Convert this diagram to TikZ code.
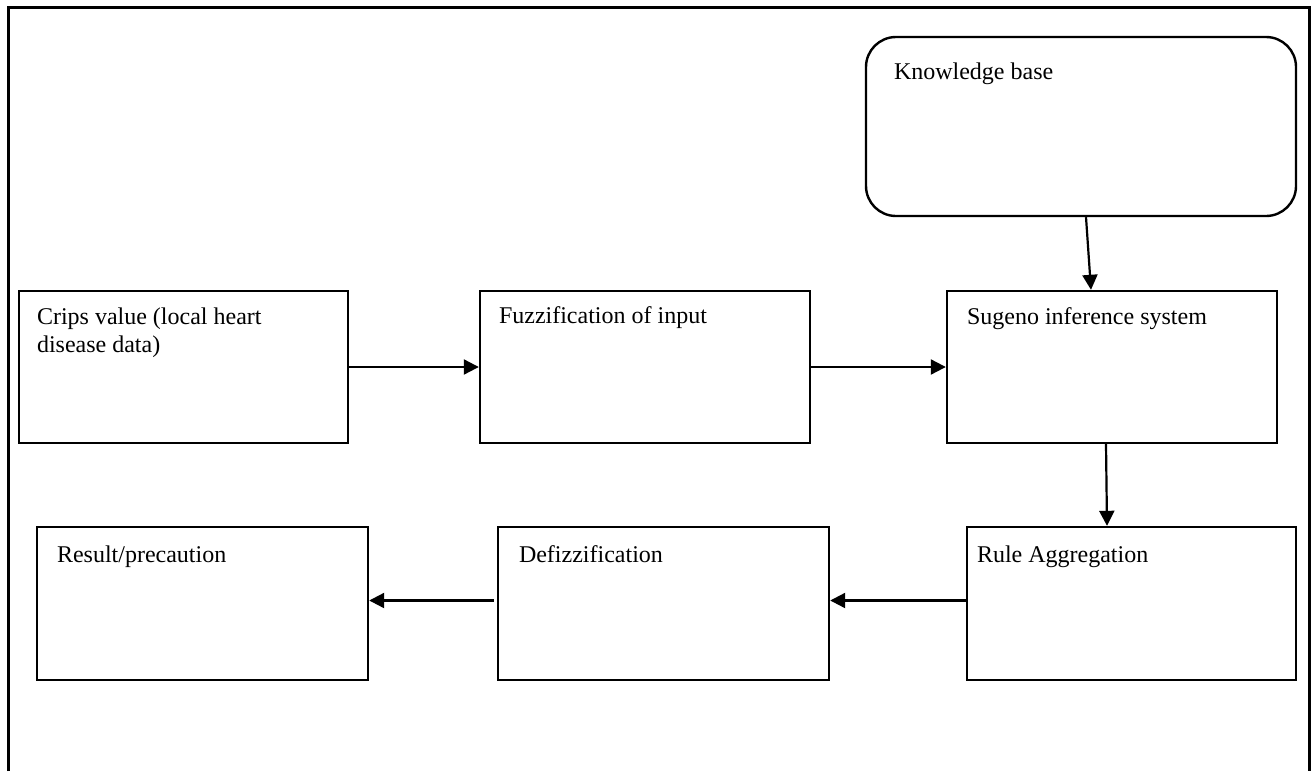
\documentclass[tikz,border=0pt]{standalone}
\usepackage{fontspec}
\setmainfont{Liberation Serif}
\usepackage{tikz}
\usetikzlibrary{arrows.meta}

\tikzset{
  stage/.style={draw,line width=2.4pt,minimum width=330pt,minimum height=152pt,inner sep=0pt},
  txt/.style={anchor=north west,inner sep=0pt,align=left,font=\fontsize{24}{28}\selectfont},
  flow/.style={line width=2.2pt,-{Triangle[length=15pt,width=15pt]}}
}

\begin{document}
\begin{tikzpicture}[x=1pt,y=-1pt]
\useasboundingbox (0,0) rectangle (1311,771);

% outer frame, open at the bottom
\draw [line width=3pt] (8,771) |- (1309,7) -- (1309,771);

\node [stage,minimum width=430pt,minimum height=179pt,rounded corners=30pt,
  label={[txt,xshift=29pt,yshift=-26.5pt]north west:Knowledge base}] (kb) at (1081,126.5) {};

\node [stage,minimum width=329pt,
  label={[txt,xshift=19pt,yshift=-17.5pt]north west:{Crips value (local heart\\disease data)}}] (crips) at (183.5,367) {};
\node [stage,
  label={[txt,xshift=20pt,yshift=-16.5pt]north west:Fuzzification of input}] (fuzz) at (645,367) {};
\node [stage,
  label={[txt,xshift=21pt,yshift=-17.5pt]north west:Sugeno inference system}] (sug) at (1112,367) {};

\node [stage,minimum width=331pt,minimum height=153pt,
  label={[txt,xshift=21pt,yshift=-19.5pt]north west:Result/precaution}] (res) at (202.5,603.5) {};
\node [stage,minimum width=331pt,minimum height=153pt,
  label={[txt,xshift=22pt,yshift=-19.5pt]north west:Defizzification}] (defz) at (663.5,603.5) {};
\node [stage,minimum width=329pt,minimum height=153pt,
  label={[txt,xshift=11pt,yshift=-19.5pt]north west:Rule Aggregation}] (rule) at (1131.5,603.5) {};

\draw [flow] (crips) -- (fuzz);
\draw [flow] (fuzz) -- (sug);
\draw [flow] ([xshift=5pt]kb.south) -- ([xshift=-21pt]sug.north);
\draw [flow] ([xshift=-6pt]sug.south) -- ([xshift=-24.5pt]rule.north);
\draw [flow] ([yshift=3pt]rule.west) -- ([yshift=3pt]defz.east);
\draw [flow] ([xshift=-3pt,yshift=3pt]defz.west) -- ([yshift=3pt]res.east);

\end{tikzpicture}
\end{document}
